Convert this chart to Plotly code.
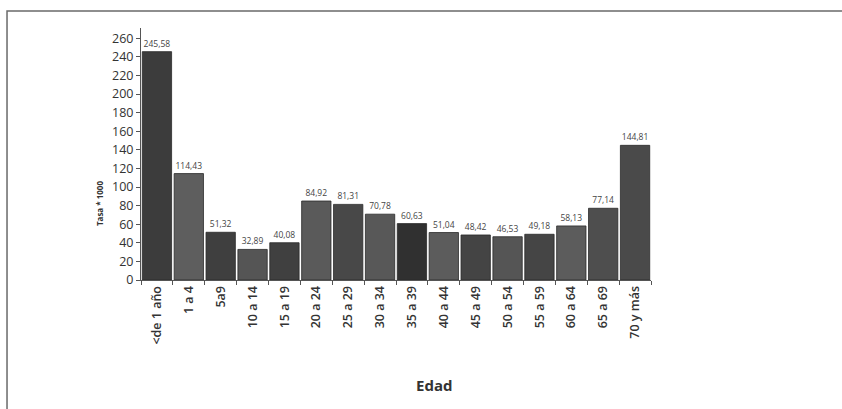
import plotly.graph_objects as go

# Age groups and rates per 1000
edades = ["<de 1 año", "1 a 4", "5a9", "10 a 14", "15 a 19", "20 a 24", "25 a 29",
          "30 a 34", "35 a 39", "40 a 44", "45 a 49", "50 a 54", "55 a 59",
          "60 a 64", "65 a 69", "70 y más"]
tasas = [245.58, 114.43, 51.32, 32.89, 40.08, 84.92, 81.31, 70.78, 60.63,
         51.04, 48.42, 46.53, 49.18, 58.13, 77.14, 144.81]
grises = ["#3c3c3c", "#5e5e5e", "#3f3f3f", "#555555", "#404040", "#5a5a5a",
          "#484848", "#585858", "#303030", "#5c5c5c", "#444444", "#555555",
          "#454545", "#5c5c5c", "#4e4e4e", "#4a4a4a"]
y_ticks = list(range(0, 261, 20))

etiquetas = [f"{v:.2f}".replace(".", ",") for v in tasas]

fig = go.Figure(go.Bar(
    x=edades, y=tasas,
    marker=dict(color=grises, line=dict(color="#2a2a2a", width=0.8)),
    text=etiquetas, textposition="outside", cliponaxis=False,
    textfont=dict(family="Open Sans", size=8.5, color="#444444"),
))

fig.update_layout(
    width=842, height=409,
    margin=dict(l=141, r=191, t=28, b=129),
    paper_bgcolor="white", plot_bgcolor="white",
    bargap=0.08, showlegend=False,
    font=dict(family="Open Sans", color="#333333"),
    xaxis=dict(
        tickangle=-90, tickson="boundaries", ticks="outside", ticklen=4,
        tickcolor="#555555", showline=True, linecolor="#555555", linewidth=1,
        tickfont=dict(family="Open Sans", size=12.5, color="#333333", weight=600),
        showgrid=False, range=[-0.5, 15.5],
    ),
    yaxis=dict(
        range=[0, 271], tickvals=y_ticks, ticks="outside", ticklen=4,
        tickcolor="#555555", showline=True, linecolor="#555555", linewidth=1,
        tickfont=dict(family="Open Sans", size=12.5, color="#333333"),
        showgrid=False, zeroline=False,
    ),
    annotations=[
        dict(text="Edad", xref="paper", yref="paper", x=0.5745, y=-0.417,
             xanchor="center", yanchor="middle",
             showarrow=False, font=dict(family="Open Sans", size=15, color="#333333", weight=700)),
        dict(text="Tasa * 1000", xref="paper", yref="paper", x=-0.08, y=0.306,
             xanchor="center", yanchor="middle",
             textangle=-90, showarrow=False,
             font=dict(family="Open Sans", size=8, color="#333333", weight=700)),
    ],
    shapes=[
        dict(type="rect", xref="paper", yref="paper",
             x0=-0.2627, x1=1.39, y0=-0.55, y1=1.0675,
             line=dict(color="#6a6a6a", width=1.5), fillcolor="rgba(0,0,0,0)", layer="below"),
    ],
)

fig.write_html("out.html")
